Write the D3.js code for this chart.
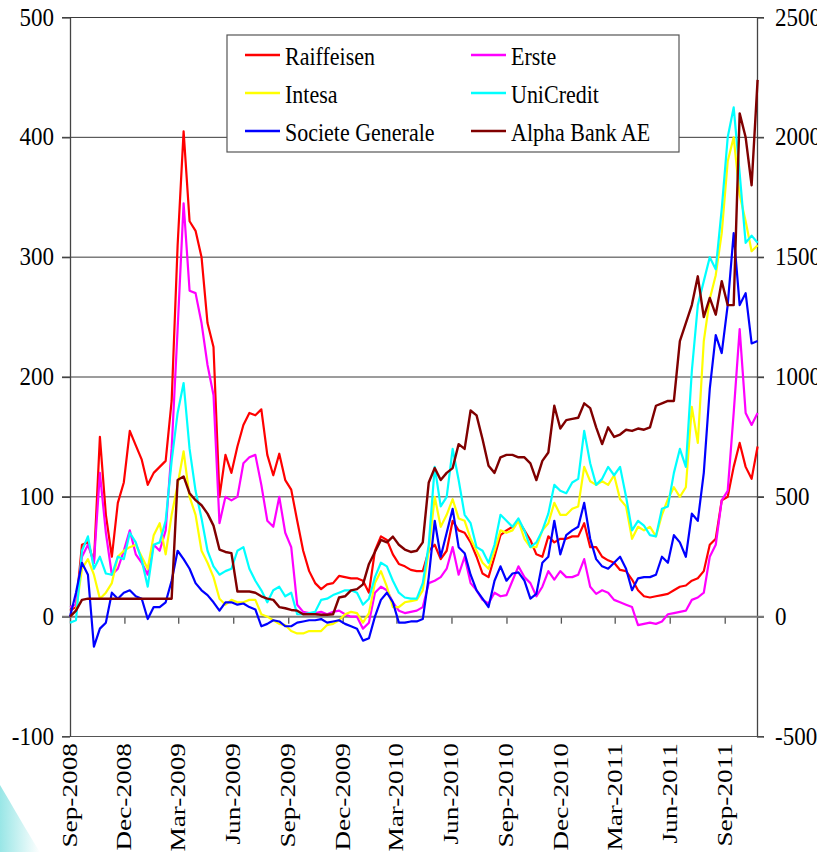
<!DOCTYPE html>
<html><head><meta charset="utf-8">
<script src="https://cdn.jsdelivr.net/npm/d3@7"></script>
<style>body{margin:0;background:#fff}svg{display:block}</style>
</head><body><svg id="c" width="817" height="852"></svg>
<script>
// ---------- data ----------
const startDate = new Date(2008, 8, 1);
const endDate = new Date(2011, 9, 25);
const stepDays = 10;
const seriesNames = ["Raiffeisen", "Erste", "Intesa", "UniCredit", "Societe Generale", "Alpha Bank AE"];
const seriesColors = ["#FF0000", "#FF00FF", "#FFFF00", "#00FFFF", "#0000FF", "#800000"];
const raiffeisen = [5,8,60,62,45,150,85,50,95,112,155,143,131,110,120,125,130,180,310,405,330,322,300,245,225,100,135,120,142,160,170,168,173,135,118,136,114,106,80,55,38,28,23,27,28,34,33,32,32,30,20,55,67,64,52,44,42,39,38,38,55,60,48,55,80,72,70,62,50,36,33,50,68,72,75,80,72,64,52,50,67,62,65,65,67,67,78,58,58,50,47,45,39,38,31,22,17,16,17,18,19,22,25,26,30,32,38,60,65,97,100,125,145,125,115,142];
const erste = [8,10,50,60,45,120,70,35,40,55,72,52,45,35,60,55,72,140,240,345,272,270,245,210,185,78,100,97,100,128,133,135,110,80,75,100,70,58,10,4,3,3,4,2,4,5,2,0,0,-10,-5,20,25,22,12,5,3,4,5,8,28,30,33,40,58,35,50,28,22,14,11,20,17,18,30,42,33,28,17,25,38,31,38,33,33,35,48,25,19,22,20,14,12,10,8,-7,-6,-5,-6,-4,2,3,4,5,14,16,20,50,60,97,105,170,240,170,160,170];
const intesa = [0,5,40,48,35,15,20,28,50,55,58,60,50,40,68,78,52,85,110,138,100,85,55,45,33,15,10,14,12,12,14,14,2,0,-3,-6,-7,-12,-14,-14,-12,-12,-12,-7,-6,-3,2,4,3,-5,3,28,38,25,8,8,12,13,14,22,55,100,75,85,98,82,80,65,55,45,40,55,72,70,72,80,65,58,58,72,78,95,85,85,90,92,125,113,110,113,110,118,98,92,65,75,72,75,67,85,98,108,100,108,175,145,230,265,285,320,380,400,352,330,305,310];
const uniCredit = [-5,-3,55,67,40,50,36,35,50,48,70,62,47,25,60,62,80,130,170,195,140,105,82,55,42,35,38,40,55,58,40,30,22,12,22,25,17,20,2,2,3,4,14,15,18,20,22,22,20,10,15,33,45,42,30,20,16,15,15,28,60,125,92,100,140,114,85,78,58,55,45,60,85,80,75,82,72,58,62,72,86,110,105,103,112,115,155,128,110,115,125,118,125,100,72,80,76,68,67,90,92,120,140,125,205,260,280,300,290,340,400,425,370,312,318,312];
const societeGenerale = [0,20,45,35,-25,-10,-5,20,15,20,22,17,15,-2,8,8,12,30,55,48,40,28,22,18,12,5,12,12,10,11,8,6,-8,-6,-3,-4,-8,-8,-5,-4,-3,-3,-2,-5,-4,-3,-6,-8,-10,-20,-18,0,14,20,12,-5,-5,-4,-4,-2,33,80,50,70,90,58,53,35,22,15,8,30,42,30,36,37,30,15,19,45,50,80,52,68,72,75,95,65,48,42,40,45,50,40,22,32,33,33,35,50,45,68,62,50,86,80,120,190,235,220,260,320,260,270,228,230];
// Alpha Bank AE is read on the right-hand axis
const alphaBank = [0,25,70,75,75,75,75,75,75,75,75,75,75,75,75,75,75,75,570,585,515,486,465,430,380,280,270,265,105,105,105,100,85,75,70,40,35,28,25,10,10,10,8,8,10,80,85,110,115,135,220,270,320,310,334,300,280,270,275,310,560,620,570,600,620,720,700,860,840,740,630,600,665,675,675,665,665,640,570,650,685,880,785,820,825,830,890,870,790,720,790,750,760,780,775,785,780,790,880,890,900,900,1150,1225,1300,1420,1250,1330,1260,1400,1300,1300,2100,2000,1800,2240];
const leftTicks = [-100, 0, 100, 200, 300, 400, 500];
const rightTicks = [-500, 0, 500, 1000, 1500, 2000, 2500];
const xTickLabels = ["Sep-2008","Dec-2008","Mar-2009","Jun-2009","Sep-2009","Dec-2009","Mar-2010","Jun-2010","Sep-2010","Dec-2010","Mar-2011","Jun-2011","Sep-2011"];

// ---------- chart ----------
const FONT = "'Liberation Serif','Times New Roman',serif";
const svg = d3.select("#c");
const L = 70, R = 757, T = 17.5, B = 736.5;
const dates = raiffeisen.map((_, i) => d3.timeDay.offset(startDate, i * stepDays));
const x = d3.scaleTime().domain([startDate, endDate]).range([L, R]);
const yL = d3.scaleLinear().domain([-100, 500]).range([B, T]);
const yR = d3.scaleLinear().domain([-500, 2500]).range([B, T]);
const parseTick = d3.timeParse("%b-%Y");

// background swoosh
const defs = svg.append("defs");
const gr = defs.append("linearGradient").attr("id", "sw").attr("x1", 0).attr("y1", 0).attr("x2", 1).attr("y2", 0);
gr.append("stop").attr("offset", "0").attr("stop-color", "#7fe0e0");
gr.append("stop").attr("offset", "1").attr("stop-color", "#ffffff");
svg.append("path").attr("d", "M0,785 C12,805 26,830 40,852 L0,852 Z").attr("fill", "url(#sw)").attr("opacity", 0.8);

// gridlines
svg.append("g").selectAll("line").data(leftTicks.filter(v => v > 0)).join("line")
  .attr("x1", L - 8).attr("x2", R + 7).attr("y1", d => yL(d)).attr("y2", d => yL(d))
  .attr("stroke", "#3a3a3a").attr("stroke-width", 1);
// bottom border (-100)
svg.append("line").attr("x1", L - 8).attr("x2", R + 7).attr("y1", yL(-100)).attr("y2", yL(-100))
  .attr("stroke", "#555").attr("stroke-width", 1.2);

// left & right axes
const axL = svg.append("g").attr("transform", `translate(${L},0)`)
  .call(d3.axisLeft(yL).tickValues(leftTicks).tickSize(8).tickSizeOuter(0).tickFormat(""));
const axR = svg.append("g").attr("transform", `translate(${R},0)`)
  .call(d3.axisRight(yR).tickValues(rightTicks).tickSize(7).tickSizeOuter(0).tickFormat(""));
[axL, axR].forEach(a => { a.selectAll("path,line").attr("stroke", "#444").attr("stroke-width", 1.3); });

function stretchText(parent, tx, ty, txt, anchor, size, sy) {
  const g = parent.append("g").attr("transform", `translate(${tx},${ty}) scale(1,${sy})`);
  g.append("text").attr("x", 0).attr("y", 0).attr("text-anchor", anchor)
    .attr("font-family", FONT).attr("font-size", size).attr("fill", "#000").text(txt);
}
leftTicks.forEach(v => stretchText(svg, 54, yL(v) + 8, String(v), "end", 23, 1.12));
rightTicks.forEach(v => stretchText(svg, 775, yR(v) + 8, String(v), "start", 23, 1.12));

// category axis at zero
const axX = svg.append("g").attr("transform", `translate(0,${yL(0)})`)
  .call(d3.axisBottom(x).tickValues(xTickLabels.map(parseTick)).tickSize(7).tickSizeOuter(0).tickFormat(""));
axX.select(".domain").remove();
axX.selectAll("line").attr("stroke", "#555").attr("stroke-width", 1.3);
svg.append("line").attr("x1", L - 8).attr("x2", R + 7).attr("y1", yL(0)).attr("y2", yL(0))
  .attr("stroke", "#7a7a7a").attr("stroke-width", 2);

xTickLabels.forEach(lbl => {
  const tx = x(parseTick(lbl));
  svg.append("g").attr("transform", `translate(${tx + 7},743) rotate(-90) scale(1.3,1)`)
    .append("text").attr("text-anchor", "end").attr("font-family", FONT).attr("font-size", 21)
    .attr("fill", "#000").text(lbl);
});

// series
const leftSeries = [raiffeisen, erste, intesa, uniCredit, societeGenerale];
const lineL = d3.line().x((d, i) => x(dates[i])).y(d => yL(d));
const lineR = d3.line().x((d, i) => x(dates[i])).y(d => yR(d));
leftSeries.forEach((s, k) => {
  svg.append("path").datum(s).attr("d", lineL).attr("fill", "none")
    .attr("stroke", seriesColors[k]).attr("stroke-width", 2.2).attr("stroke-linejoin", "round");
});
svg.append("path").datum(alphaBank).attr("d", lineR).attr("fill", "none")
  .attr("stroke", seriesColors[5]).attr("stroke-width", 2.4).attr("stroke-linejoin", "round");

// legend
const lg = svg.append("g");
lg.append("rect").attr("x", 227).attr("y", 35).attr("width", 452).attr("height", 117)
  .attr("fill", "#fff").attr("stroke", "#555").attr("stroke-width", 1.2);
seriesNames.forEach((n, k) => {
  const col = k % 2, row = Math.floor(k / 2);
  const lx = col === 0 ? 245 : 471;
  const ly = 55 + row * 38;
  lg.append("line").attr("x1", lx).attr("x2", lx + 35).attr("y1", ly).attr("y2", ly)
    .attr("stroke", seriesColors[k]).attr("stroke-width", 2.5);
  stretchText(lg, lx + 40, ly + 10, n, "start", 22, 1.12);
});
</script></body></html>
